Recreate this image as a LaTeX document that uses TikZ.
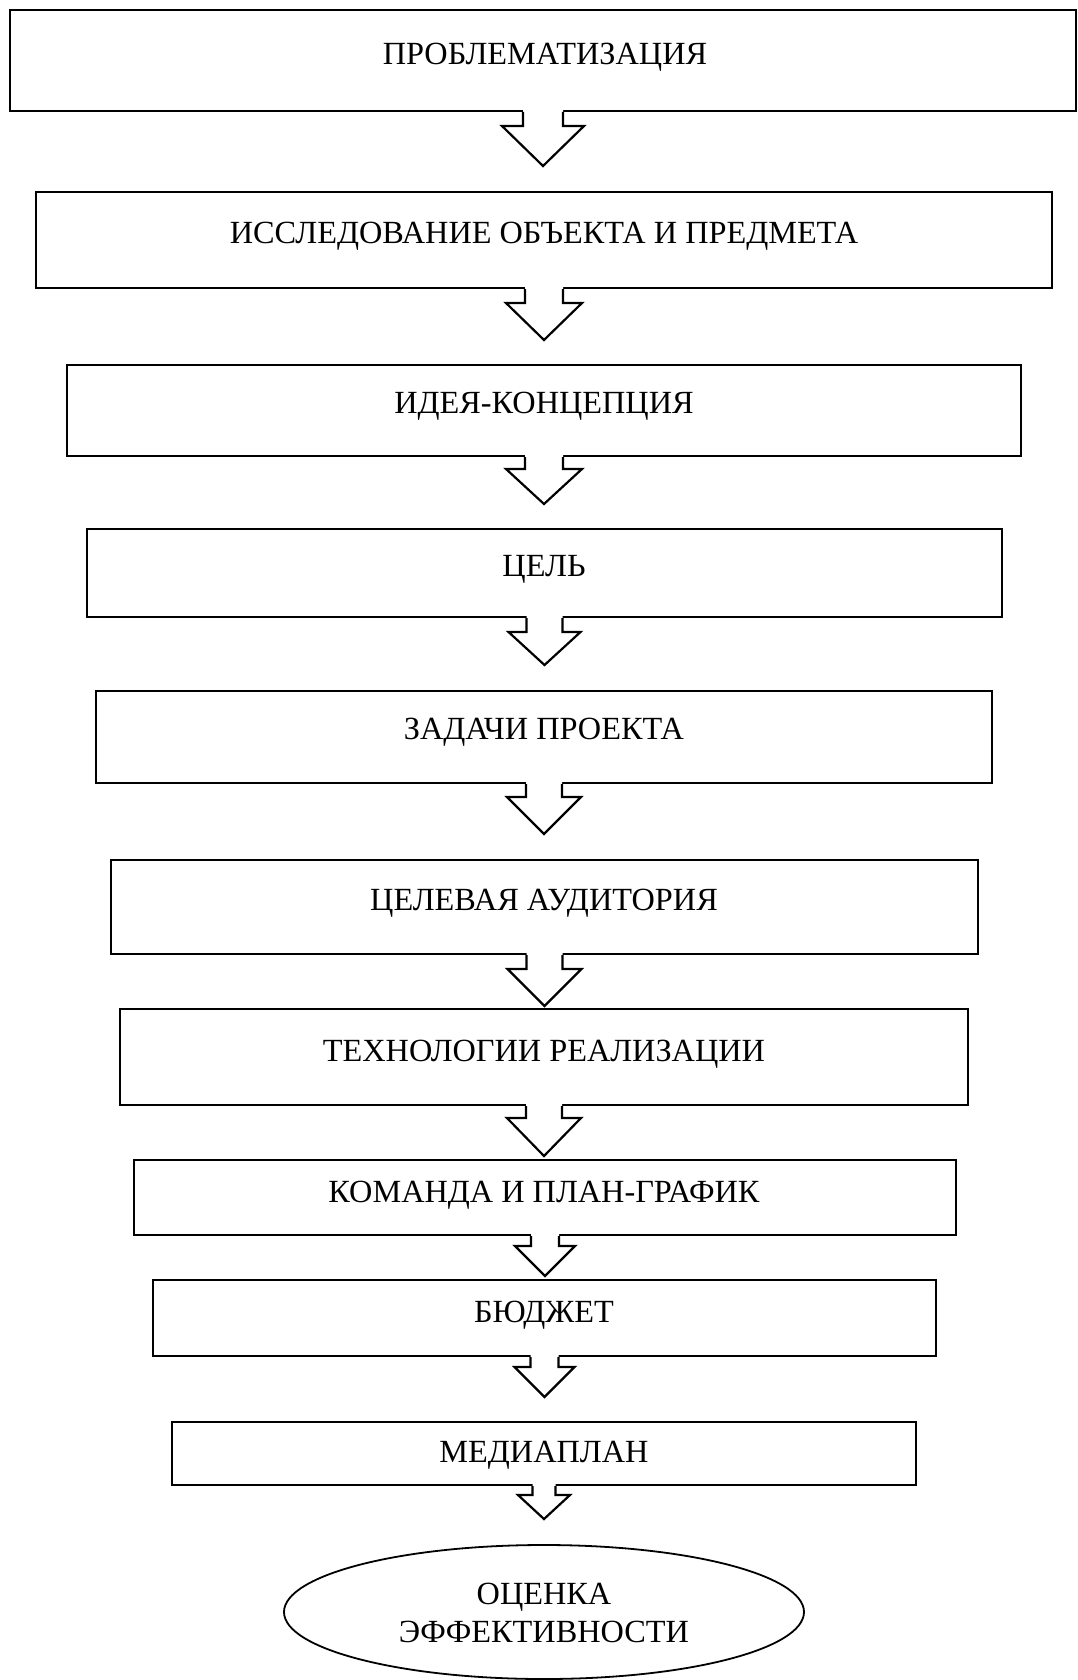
\documentclass[tikz,border=0pt]{standalone}
\usepackage{fontspec}
\setmainfont{Liberation Serif}
\usetikzlibrary{shapes.geometric}
\newcommand\barrow[5]{%
  \fill[white] ([xshift=-#2pt,yshift=1.6pt]#1.south) -- ([xshift=-#2pt,yshift=-#4pt]#1.south) -- ([xshift=-#3pt,yshift=-#4pt]#1.south) -- ([yshift=-#5pt]#1.south) -- ([xshift=#3pt,yshift=-#4pt]#1.south) -- ([xshift=#2pt,yshift=-#4pt]#1.south) -- ([xshift=#2pt,yshift=1.6pt]#1.south) -- cycle;
  \draw[arr] ([xshift=-#2pt,yshift=-1pt]#1.south) -- ([xshift=-#2pt,yshift=-#4pt]#1.south) -- ([xshift=-#3pt,yshift=-#4pt]#1.south) -- ([yshift=-#5pt]#1.south) -- ([xshift=#3pt,yshift=-#4pt]#1.south) -- ([xshift=#2pt,yshift=-#4pt]#1.south) -- ([xshift=#2pt,yshift=-1pt]#1.south);}
\tikzset{
  stagebox/.style={draw, line width=2.2pt, rectangle, outer sep=0pt, inner sep=0pt},
  lbl/.style={anchor=base, inner sep=0pt, font=\fontsize{32.3}{38}\selectfont},
  arr/.style={line width=2.2pt, line join=miter},
}
\begin{document}
\begin{tikzpicture}[x=1pt,y=-1pt]
\useasboundingbox (0,0) rectangle (1078,1680);
\fill[white] (0,0) rectangle (1078,1680);
% boxes
\node[stagebox, minimum width=1066pt, minimum height=101pt] (b1) at (543,60.5) {};
\node[stagebox, minimum width=1016pt, minimum height=96pt] (b2) at (544,240) {};
\node[stagebox, minimum width=954pt, minimum height=91pt] (b3) at (544,410.5) {};
\node[stagebox, minimum width=915pt, minimum height=88pt] (b4) at (544.5,573) {};
\node[stagebox, minimum width=896pt, minimum height=92pt] (b5) at (544,737) {};
\node[stagebox, minimum width=867pt, minimum height=94pt] (b6) at (544.5,907) {};
\node[stagebox, minimum width=848pt, minimum height=96pt] (b7) at (544,1057) {};
\node[stagebox, minimum width=822pt, minimum height=75pt] (b8) at (545,1197.5) {};
\node[stagebox, minimum width=783pt, minimum height=76pt] (b9) at (544.5,1318) {};
\node[stagebox, minimum width=744pt, minimum height=63pt] (b10) at (544,1453.5) {};
\node[draw, ellipse, line width=1.8pt, minimum width=520pt, minimum height=134pt, inner sep=0pt] (e) at (544,1612) {};
% labels
\node[lbl] (t1) at (545,64.5) {ПРОБЛЕМАТИЗАЦИЯ};
\node[lbl] (t2) at (544,243.5) {ИССЛЕДОВАНИЕ ОБЪЕКТА И ПРЕДМЕТА};
\node[lbl] (t3) at (544,413.5) {ИДЕЯ-КОНЦЕПЦИЯ};
\node[lbl] (t4) at (544,576.5) {ЦЕЛЬ};
\node[lbl] (t5) at (544,739.5) {ЗАДАЧИ ПРОЕКТА};
\node[lbl] (t6) at (544,910.5) {ЦЕЛЕВАЯ АУДИТОРИЯ};
\node[lbl] (t7) at (544,1061.5) {ТЕХНОЛОГИИ РЕАЛИЗАЦИИ};
\node[lbl] (t8) at (544,1202.5) {КОМАНДА И ПЛАН-ГРАФИК};
\node[lbl] (t9) at (544,1322.5) {БЮДЖЕТ};
\node[lbl] (t10) at (544,1462.5) {МЕДИАПЛАН};
\node[lbl] (t11) at (544,1604.5) {ОЦЕНКА};
\node[lbl] (t12) at (544,1642.5) {ЭФФЕКТИВНОСТИ};
% block arrows
\barrow{b1}{20}{41}{15}{55}
\barrow{b2}{19}{38}{15}{52}
\barrow{b3}{19}{38}{13}{48}
\barrow{b4}{18}{36}{15}{48}
\barrow{b5}{18}{37}{14}{51}
\barrow{b6}{18}{37}{15}{52}
\barrow{b7}{18}{37}{13}{51}
\barrow{b8}{14}{30}{11}{41}
\barrow{b9}{14}{30}{11}{41}
\barrow{b10}{11.5}{26}{10}{34}
\end{tikzpicture}
\end{document}
